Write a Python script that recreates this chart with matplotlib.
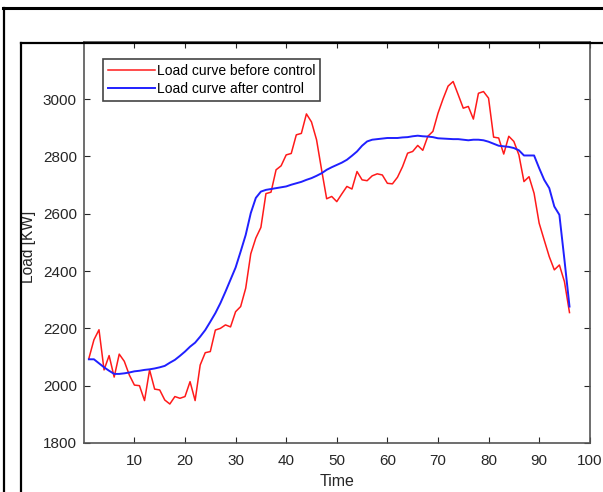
import numpy as np
import matplotlib
matplotlib.use("Agg")
import matplotlib.pyplot as plt
from matplotlib.lines import Line2D

plt.rcParams['font.family'] = ['Liberation Sans', 'DejaVu Sans']

# load before control
before = [2095, 2160, 2195, 2055, 2105, 2030, 2110, 2085, 2037, 2002,
          2000, 1948, 2055, 1988, 1985, 1950, 1936, 1962, 1956, 1962,
          2014, 1948, 2072, 2115, 2119, 2194, 2200, 2212, 2205, 2258,
          2276, 2340, 2460, 2515, 2552, 2670, 2675, 2753, 2767, 2805,
          2810, 2875, 2880, 2948, 2920, 2858, 2753, 2652, 2660, 2642,
          2669, 2695, 2686, 2747, 2718, 2715, 2732, 2739, 2735, 2706,
          2704, 2727, 2764, 2811, 2817, 2838, 2821, 2870, 2887, 2950,
          3000, 3045, 3061, 3015, 2968, 2974, 2930, 3020, 3026, 3003,
          2867, 2864, 2808, 2870, 2852, 2805, 2712, 2729, 2671, 2567,
          2508, 2450, 2404, 2421, 2363, 2255]

# load after control
after = [2092, 2092, 2078, 2064, 2052, 2041, 2041, 2043, 2046, 2050,
         2052, 2055, 2057, 2060, 2064, 2069, 2080, 2090, 2104, 2119,
         2136, 2150, 2171, 2194, 2223, 2253, 2288, 2328, 2370, 2412,
         2468, 2526, 2602, 2655, 2677, 2683, 2686, 2689, 2692, 2695,
         2701, 2706, 2711, 2718, 2724, 2732, 2741, 2753, 2762, 2770,
         2778, 2788, 2802, 2817, 2837, 2852, 2858, 2860, 2862, 2864,
         2864, 2864, 2866, 2867, 2870, 2872, 2870, 2869, 2867, 2863,
         2862, 2861, 2860, 2860, 2858, 2856, 2858, 2858, 2856, 2851,
         2844, 2837, 2835, 2833, 2829, 2821, 2803, 2803, 2803, 2759,
         2718, 2689, 2625, 2596, 2439, 2276]

time = np.arange(1, len(before) + 1)
xticks = [10, 20, 30, 40, 50, 60, 70, 80, 90, 100]
yticks = [1800, 2000, 2200, 2400, 2600, 2800, 3000]

fig = plt.figure(figsize=(6.03, 4.92), dpi=100)
ax = fig.add_axes([0.139, 0.0996, 0.839, 0.8157])

ax.plot(time, before, color='#ff1a1a', lw=1.1, label='Load curve before control')
ax.plot(time, after, color='#2020ff', lw=1.4, label='Load curve after control')

ax.set_xlim(0, 100)
ax.set_ylim(1800, 3200)
ax.set_xticks(xticks)
ax.set_yticks(yticks)
ax.tick_params(direction='in', length=4, top=True, right=True, labelsize=11,
               colors='#262626')
ax.tick_params(axis='x', pad=8)
ax.tick_params(axis='y', pad=5)
for s in ax.spines.values():
    s.set_color('#555555')
    s.set_linewidth(1.2)
ax.set_xlabel('Time', fontsize=11.5, color='#262626', labelpad=4)
ax.set_ylabel('Load [KW]', fontsize=11.2, color='#262626')
ax.yaxis.set_label_coords(-0.094, 0.488)

leg = ax.legend(loc='upper left', bbox_to_anchor=(0.0375, 0.957), borderaxespad=0,
                fontsize=10, fancybox=False, framealpha=1, edgecolor='#444444',
                handlelength=3.4, handletextpad=0.15, borderpad=0.35, labelspacing=0.3)
leg.get_frame().set_linewidth(1.2)

# screenshot frame lines
fig.add_artist(Line2D([0.005, 1.0], [0.984, 0.984], color='black', lw=2.2))
fig.add_artist(Line2D([0.006, 0.006], [0.0, 0.984], color='black', lw=1.6))
fig.add_artist(Line2D([0.035, 1.0], [0.912, 0.912], color='black', lw=1.6))
fig.add_artist(Line2D([0.035, 0.035], [0.0, 0.912], color='black', lw=1.6))

fig.savefig('out.png', dpi=100)
